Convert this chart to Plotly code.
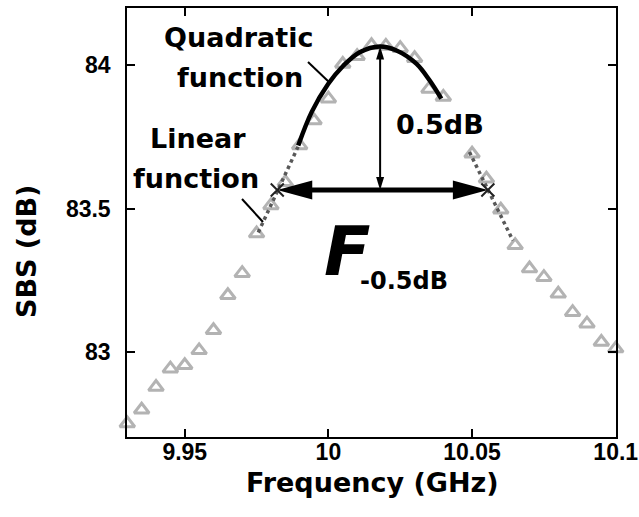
import plotly.graph_objects as go

# ---------------- data ----------------
freq = [9.930, 9.935, 9.940, 9.945, 9.950, 9.955, 9.960, 9.965, 9.970, 9.975,
        9.980, 9.985, 9.990, 9.995, 10.000, 10.005, 10.010, 10.015, 10.020, 10.025,
        10.030, 10.035, 10.040, 10.045, 10.050, 10.055, 10.060, 10.065, 10.070, 10.075,
        10.080, 10.085, 10.090, 10.095, 10.100]
sbs = [82.752, 82.800, 82.879, 82.943, 82.955, 83.007, 83.077, 83.199, 83.276, 83.414,
       83.512, 83.593, 83.721, 83.808, 83.884, 84.005, 84.032, 84.070, 84.068, 84.060,
       84.025, 83.918, 83.890, 83.795, 83.692, 83.605, 83.497, 83.373, 83.292, 83.262,
       83.204, 83.140, 83.100, 83.036, 83.013]

# quadratic fit curve
quad_x = [9.9895, 9.9942, 9.9999, 10.0051, 10.0109, 10.0179, 10.0237, 10.0306, 10.0352, 10.0393]
quad_y = [83.721, 83.838, 83.935, 83.998, 84.046, 84.066, 84.052, 84.006, 83.948, 83.884]

# linear fits (end points of dotted lines)
lin_left_x = [9.9756, 9.9895]
lin_left_y = [83.418, 83.718]
lin_right_x = [10.0491, 10.0642]
lin_right_y = [83.698, 83.390]

# -0.5 dB crossing points and peak
cross_x = [9.9822, 10.0555]
cross_y = [83.566, 83.566]
peak_x = 10.018
peak_y = 84.066

x_ticks = [9.95, 10.0, 10.05, 10.1]
x_ticktext = ["9.95", "10", "10.05", "10.1"]
y_ticks = [83.0, 83.5, 84.0]
y_ticktext = ["83", "83.5", "84"]

# ---------------- layout geometry ----------------
W, H = 639, 517
PL, PR, PT, PB = 127, 616, 8, 437
X_RANGE = [9.9299, 10.1001]
Y_RANGE = [82.705, 84.2]
DXP = (X_RANGE[1] - X_RANGE[0]) / (PR - PL)
DYP = (Y_RANGE[1] - Y_RANGE[0]) / (PB - PT)


def px2x(px):
    return X_RANGE[0] + (px - PL) * DXP


def py2y(py):
    return Y_RANGE[1] - (py - PT) * DYP


FONT = "DejaVu Sans"
TICKFONT = "Liberation Sans"

fig = go.Figure()

fig.add_trace(go.Scatter(
    x=freq, y=sbs, mode="markers", cliponaxis=False,
    marker=dict(symbol="triangle-up-open", size=13, color="#b3b3b3",
                line=dict(width=3, color="#b3b3b3")),
    showlegend=False, hoverinfo="skip"))

for lx, ly in [(lin_left_x, lin_left_y), (lin_right_x, lin_right_y)]:
    fig.add_trace(go.Scatter(
        x=lx, y=ly, mode="lines",
        line=dict(color="#585858", width=3.5, dash="dot"),
        showlegend=False, hoverinfo="skip"))

fig.add_trace(go.Scatter(
    x=quad_x, y=quad_y, mode="lines",
    line=dict(color="black", width=4.5, shape="spline", smoothing=1.0),
    showlegend=False, hoverinfo="skip"))

fig.add_trace(go.Scatter(
    x=cross_x, y=cross_y, mode="markers",
    marker=dict(symbol="x-thin-open", size=13, color="#222222",
                line=dict(width=2, color="#222222")),
    showlegend=False, hoverinfo="skip"))

shapes = []

# horizontal thick double arrow
HL, HW = 35, 9.5
xl, xr = cross_x
yh = cross_y[0]
shapes.append(dict(type="line", xref="x", yref="y", x0=xl + HL * DXP * 0.5, x1=xr - HL * DXP * 0.5,
                   y0=yh, y1=yh, line=dict(color="black", width=5)))
shapes.append(dict(type="path", xref="x", yref="y",
                   path=f"M {xl},{yh} L {xl + HL * DXP},{yh + HW * DYP} L {xl + HL * DXP},{yh - HW * DYP} Z",
                   fillcolor="black", line=dict(width=0)))
shapes.append(dict(type="path", xref="x", yref="y",
                   path=f"M {xr},{yh} L {xr - HL * DXP},{yh + HW * DYP} L {xr - HL * DXP},{yh - HW * DYP} Z",
                   fillcolor="black", line=dict(width=0)))

# vertical thin double arrow
VL, VW = 13, 4
shapes.append(dict(type="line", xref="x", yref="y", x0=peak_x, x1=peak_x,
                   y0=yh + 5 * DYP, y1=peak_y - 5 * DYP, line=dict(color="black", width=2)))
shapes.append(dict(type="path", xref="x", yref="y",
                   path=f"M {peak_x},{peak_y} L {peak_x - VW * DXP},{peak_y - VL * DYP} L {peak_x + VW * DXP},{peak_y - VL * DYP} Z",
                   fillcolor="black", line=dict(width=0)))
shapes.append(dict(type="path", xref="x", yref="y",
                   path=f"M {peak_x},{yh} L {peak_x - VW * DXP},{yh + VL * DYP} L {peak_x + VW * DXP},{yh + VL * DYP} Z",
                   fillcolor="black", line=dict(width=0)))

# leader lines
shapes.append(dict(type="line", xref="x", yref="y", x0=px2x(308), y0=py2y(62), x1=px2x(330), y1=py2y(83),
                   line=dict(color="black", width=2)))
shapes.append(dict(type="line", xref="x", yref="y", x0=px2x(242), y0=py2y(199), x1=px2x(263), y1=py2y(222),
                   line=dict(color="black", width=2)))

annotations = []


def txt(text, px, py, size, italic=False, bg=None):
    d = dict(text=text, xref="x", yref="y", x=px2x(px), y=py2y(py), showarrow=False,
             xanchor="center", yanchor="middle",
             font=dict(family=FONT, size=size, color="black", weight="bold",
                       style="italic" if italic else "normal"))
    if bg:
        d["bgcolor"] = bg
        d["borderpad"] = 0
    annotations.append(d)


txt("Quadratic", 238, 37, 27)
txt("function", 240, 77, 27)
txt("Linear", 198, 138, 27)
txt("function", 196, 178, 27)
txt("0.5dB", 440, 124, 27, bg="white")
txt("F", 347, 251, 68, italic=True)
txt("-0.5dB", 404, 281, 24)

# axis titles
annotations.append(dict(text="Frequency (GHz)", xref="paper", yref="paper",
                        x=(372 - PL) / (PR - PL), y=(PB - 483) / (PB - PT),
                        showarrow=False, xanchor="center", yanchor="middle",
                        font=dict(family=FONT, size=27, color="black", weight="bold")))
annotations.append(dict(text="SBS (dB)", xref="paper", yref="paper", textangle=-90,
                        x=(26 - PL) / (PR - PL), y=(PB - 252) / (PB - PT),
                        showarrow=False, xanchor="center", yanchor="middle",
                        font=dict(family=FONT, size=27, color="black", weight="bold")))

axis_common = dict(showgrid=False, zeroline=False, showline=True, linecolor="black", linewidth=1.5,
                   mirror="ticks", ticks="inside", ticklen=8, tickwidth=1.5, tickcolor="black",
                   ticklabeloverflow="allow", automargin=False,
                   tickfont=dict(family=TICKFONT, size=23, color="black", weight="bold"))

fig.update_layout(
    width=W, height=H,
    margin=dict(l=PL, r=W - PR, t=PT, b=H - PB, pad=0, autoexpand=False),
    paper_bgcolor="white", plot_bgcolor="white",
    xaxis=dict(range=X_RANGE, tickvals=x_ticks, ticktext=x_ticktext, ticklabelstandoff=-6, **axis_common),
    yaxis=dict(range=Y_RANGE, tickvals=y_ticks, ticktext=y_ticktext, ticklabelstandoff=10, **axis_common),
    shapes=shapes, annotations=annotations,
)

fig.write_html("out.html")
